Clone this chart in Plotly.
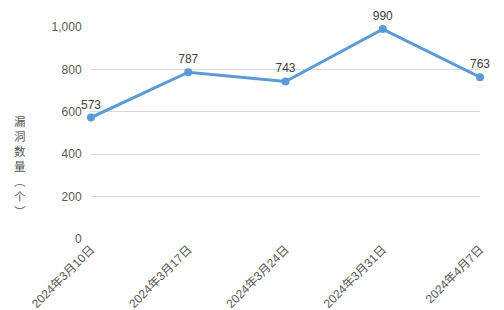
import plotly.graph_objects as go

categories = ["2024年3月10日", "2024年3月17日", "2024年3月24日", "2024年3月31日", "2024年4月7日"]
values = [573, 787, 743, 990, 763]
y_ticks = [0, 200, 400, 600, 800, 1000]
y_title_chars = ["漏", "洞", "数", "量", "︵", "个", "︶"]

font_family = "Liberation Sans, Noto Sans CJK SC, sans-serif"

fig = go.Figure()
fig.add_trace(go.Scatter(
    x=list(range(len(categories))), y=values,
    mode="lines+markers+text",
    line=dict(color="#5b9bd5", width=3),
    marker=dict(color="#5b9bd5", size=8),
    text=[str(v) for v in values],
    textposition="top center",
    textfont=dict(size=12, color="#404040", family=font_family),
    cliponaxis=False,
    hoverinfo="skip",
))

# vertical stacked y-axis title
L, R, T, B = 91, 24, 27, 71
H = 310 - T - B
fig.add_annotation(
    text="<br>".join(y_title_chars), xref="paper", yref="paper",
    x=(20 - L) / (504 - L - R), y=(310 - B - 166) / H,
    showarrow=False, xanchor="center", yanchor="middle",
    font=dict(size=11.5, color="#595959", family="Noto Sans CJK SC, sans-serif"),
)

fig.update_layout(
    width=504, height=310,
    margin=dict(l=L, r=R, t=T, b=B, autoexpand=False),
    paper_bgcolor="white", plot_bgcolor="white",
    showlegend=False,
    font=dict(family=font_family, color="#595959", size=12),
    xaxis=dict(
        tickmode="array", tickvals=list(range(len(categories))), ticktext=categories,
        tickangle=-45, range=[0, len(categories) - 1], automargin=False,
        showgrid=False, zeroline=False, showline=False,
        tickfont=dict(size=12, color="#595959", family=font_family),
    ),
    yaxis=dict(
        range=[0, 1000], tickvals=y_ticks, tickformat=",", automargin=False,
        showgrid=True, gridcolor="#d9d9d9", gridwidth=1,
        zeroline=False, showline=False, ticks="outside", ticklen=6, tickcolor="rgba(0,0,0,0)",
        tickfont=dict(size=12, color="#595959", family=font_family),
    ),
)

fig.write_html("out.html")
